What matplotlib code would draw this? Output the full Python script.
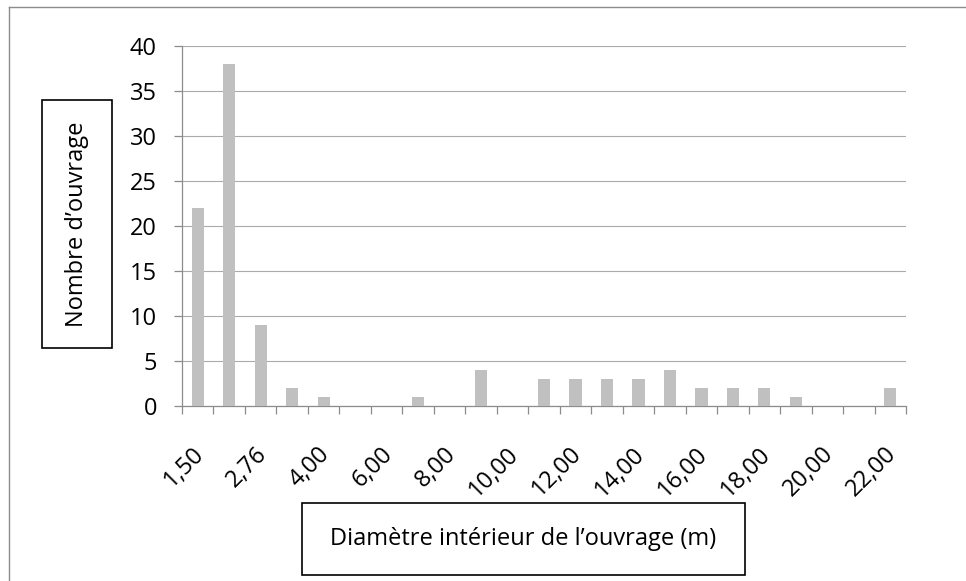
import numpy as np
import matplotlib.pyplot as plt
import matplotlib.transforms as mtransforms
from matplotlib.lines import Line2D
from matplotlib.patches import Rectangle

# diamètres (catégories) et nombre d'ouvrages
diametres = ['1,50', '2,00', '2,76', '3,00', '4,00', '5,00', '6,00', '7,00', '8,00',
             '9,00', '10,00', '11,00', '12,00', '13,00', '14,00', '15,00', '16,00',
             '17,00', '18,00', '19,00', '20,00', '21,00', '22,00']
nombre = [22, 38, 9, 2, 1, 0, 0, 1, 0, 4, 0, 3, 3, 3, 3, 4, 2, 2, 2, 1, 0, 0, 2]
yticks = [0, 5, 10, 15, 20, 25, 30, 35, 40]

plt.rcParams['font.family'] = ['Open Sans', 'DejaVu Sans']

fig = plt.figure(figsize=(9.66, 5.81), dpi=100)
ax = fig.add_axes([182/966, 1 - 406/581, 724/966, 360/581])

x = np.arange(len(diametres))
ax.bar(x, nombre, width=0.39, color='#c0c0c0', zorder=3)

ax.set_xlim(-0.5, len(diametres) - 0.5)
ax.set_ylim(0, 40)
ax.set_yticks(yticks)
ax.yaxis.grid(True, color='#aaaaaa', linewidth=0.8, zorder=0)

# ticks majeurs entre catégories, étiquettes une sur deux
ax.set_xticks(np.arange(-0.5, len(diametres)), minor=False)
ax.set_xticklabels([])
ax.set_xticks(x[::2], minor=True)
ax.set_xticklabels(diametres[::2], minor=True, rotation=45, ha='right', va='top',
                   rotation_mode='anchor', fontsize=17)
ax.tick_params(axis='x', which='minor', length=0, pad=26)
ax.tick_params(axis='x', which='major', length=6, color='#8c8c8c', width=0.9)
ax.tick_params(axis='y', length=6, color='#8c8c8c', width=0.9, labelsize=17, pad=12)

# léger décalage à gauche des étiquettes inclinées
decal = mtransforms.ScaledTranslation(-6/100, 0, fig.dpi_scale_trans)
for lab in ax.xaxis.get_minorticklabels():
    lab.set_transform(lab.get_transform() + decal)

for s in ['top', 'right']:
    ax.spines[s].set_visible(False)
for s in ['left', 'bottom']:
    ax.spines[s].set_color('#8c8c8c')
    ax.spines[s].set_linewidth(0.9)

# encadrés des titres d'axes
fig.add_artist(Rectangle((42/966, 1 - 348/581), 70/966, 248/581, transform=fig.transFigure,
                         fill=False, edgecolor='black', linewidth=1.2))
fig.text(77/966, 1 - 224/581, 'Nombre d\u2019ouvrage', rotation=90, ha='center', va='center',
         fontsize=17)
fig.add_artist(Rectangle((302/966, 1 - 575/581), 443/966, 72/581, transform=fig.transFigure,
                         fill=False, edgecolor='black', linewidth=1.2))
fig.text(523/966, 1 - 539/581, 'Diamètre intérieur de l\u2019ouvrage (m)', ha='center',
         va='center', fontsize=17)

# bordure du graphique (haut et gauche)
fig.add_artist(Line2D([9/966, 9/966], [0, 1 - 7/581], transform=fig.transFigure,
                      color='#8c8c8c', linewidth=1))
fig.add_artist(Line2D([9/966, 1], [1 - 7/581, 1 - 7/581], transform=fig.transFigure,
                      color='#8c8c8c', linewidth=1))

plt.savefig('out.png', dpi=100)
